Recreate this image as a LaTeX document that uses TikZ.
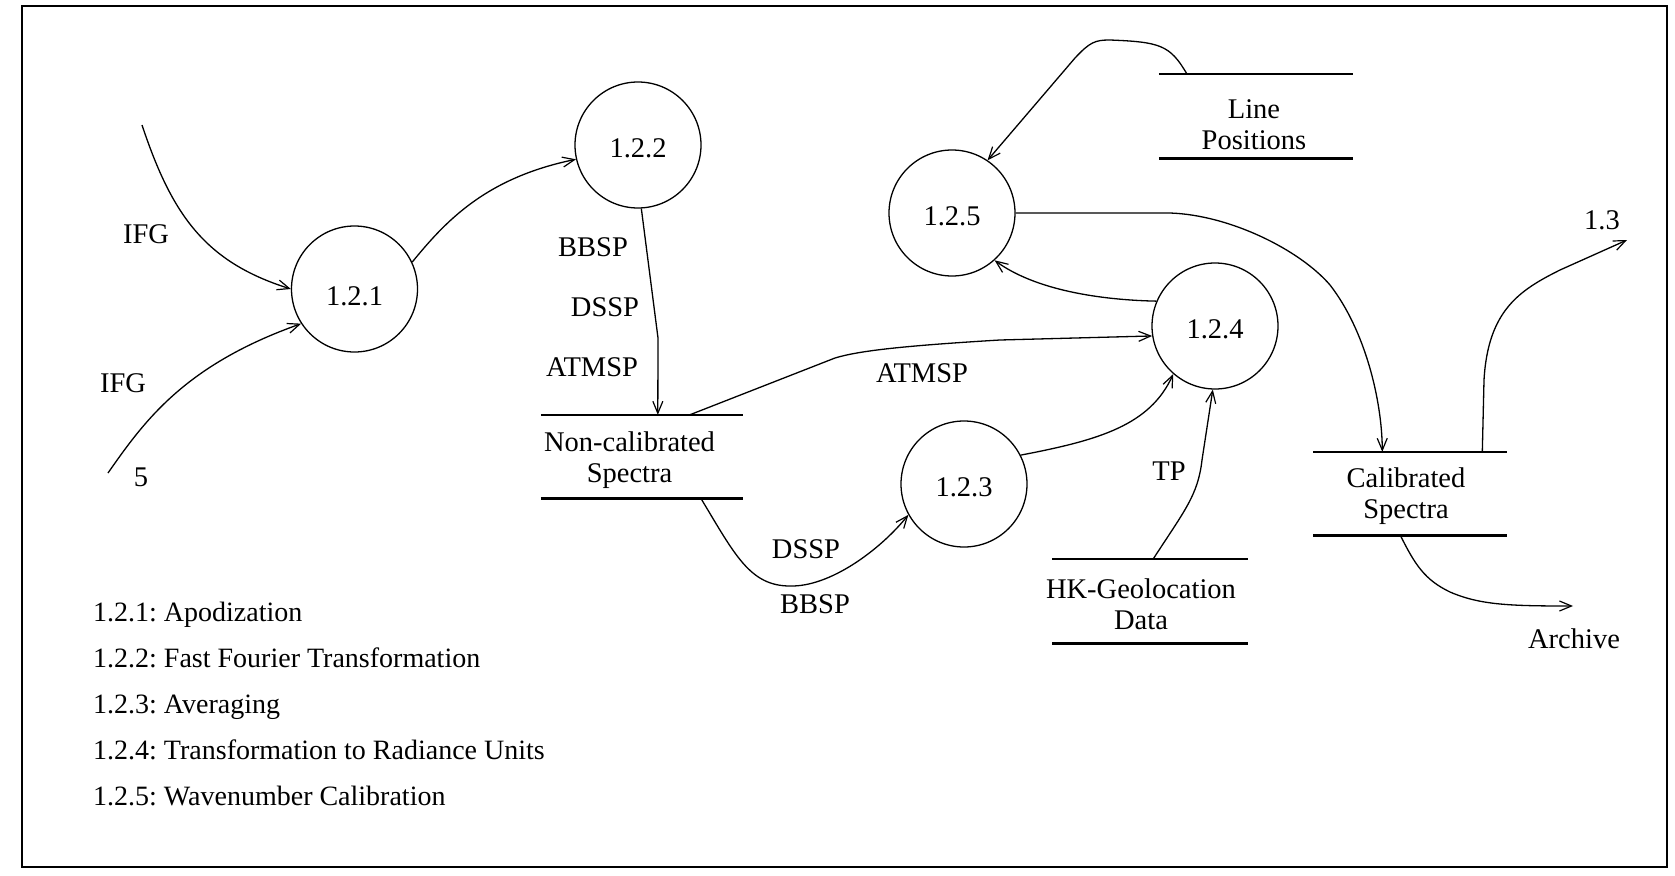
\documentclass[tikz,border=0pt]{standalone}
\usepackage{fontspec}
\setmainfont{Liberation Serif}
\usetikzlibrary{arrows.meta,calc}
\frenchspacing

\begin{document}
\begin{tikzpicture}[x=1pt,y=-1pt,
  font=\fontsize{28.5}{31}\selectfont,
  proc/.style={circle,draw,line width=1.3pt,minimum size=126pt,inner sep=0pt,
    text height=24pt,text depth=0pt},
  store/.style={inner sep=0pt},
  stxt/.style={inner sep=0pt,align=center},
  storeline/.style={line width=2.6pt},
  flow/.style={line width=1.3pt,-{Straight Barb[length=12pt,width=10pt,line width=1.2pt]}},
  lbl/.style={inner sep=0pt},
  legend/.style={anchor=base west,inner sep=0pt,font=\fontsize{28}{31}\selectfont}]

\useasboundingbox (0,0) rectangle (1675,875);
\draw[line width=2.6pt] (22,6) rectangle (1667,867);

% processes
\node[proc,text height=33pt] (p121) at (354.5,289) {1.2.1};
\node[proc] (p122) at (638,145) {1.2.2};
\node[proc] (p125) at (952,213) {1.2.5};
\node[proc] (p123) at (964,484) {1.2.3};
\node[proc] (p124) at (1215,326) {1.2.4};

% data stores: two rules with the name set between them
\node[store,minimum width=202pt,minimum height=83pt,
  label={[stxt,xshift=-12.5pt,yshift=-4pt]center:Non-calibrated\\Spectra}] (ncs) at (642,456.5) {};
\node[store,minimum width=194pt,minimum height=84pt,
  label={[stxt,xshift=-2pt,yshift=-8.5pt]center:Line\\Positions}] (lps) at (1256,116) {};
\node[store,minimum width=195pt,minimum height=84pt,
  label={[stxt,xshift=-9pt,yshift=-3pt]center:HK-Geolocation\\Data}] (hkg) at (1150,601) {};
\node[store,minimum width=193pt,minimum height=83pt,
  label={[stxt,xshift=-4pt,yshift=-3pt]center:Calibrated\\Spectra}] (cal) at (1410,493.5) {};
\foreach \s in {ncs,lps,hkg,cal}
  \draw[storeline] (\s.north west) -- (\s.north east) (\s.south west) -- (\s.south east);

% free ends
\coordinate (ifgA) at (142,125);
\coordinate (ifgB) at (108,473);
\coordinate (out13) at (1627,240);
\coordinate (arch) at (1573,606);

% flows
\draw[flow] (ifgA) .. controls (172,215) and (205,262) .. (p121.west);
\draw[flow] (ifgB) .. controls (145,420) and (185,365) .. (p121.213);
\draw[flow] (p121.25) .. controls (445,222) and (485,178) .. (p122.193);
\draw[flow] (p122.-87) -- (658,338) -- ($(ncs.north west)+(117,0)$);
\draw[flow] ($(ncs.north west)+(149,0)$) -- (835,358)
  .. controls (858,351) and (900,346) .. (1000,340) -- (p124.189);
\draw[flow] ($(ncs.south west)+(160,0)$) .. controls (735,555) and (750,586) .. (790,586)
  .. controls (830,587) and (880,550) .. (p123.209);
\draw[flow] (p123.27) .. controls (1100,440) and (1150,425) .. (p124.229);
\draw[flow] ($(hkg.north west)+(101,0)$) .. controls (1185,510) and (1198,495) .. (1202,460) -- (p124.-92);
\draw[flow] (p124.157) .. controls (1100,300) and (1035,290) .. (p125.-48);
\draw[flow] ($(lps.north west)+(28,0)$) .. controls (1170,45) and (1160,42) .. (1110,40)
  .. controls (1095,40) and (1090,42) .. (1075,58) -- (p125.56);
\draw[flow] (p125.east) -- (1170,213) .. controls (1230,215) and (1300,250) .. (1330,285)
  .. controls (1365,330) and (1382,400) .. ($(cal.north west)+(69,0)$);
\draw[flow] ($(cal.north west)+(169,0)$) -- (1484,380) .. controls (1488,310) and (1520,290) .. (1560,270) -- (out13);
\draw[flow] ($(cal.south west)+(87,0)$) .. controls (1415,565) and (1425,580) .. (1450,592)
  .. controls (1480,605) and (1510,606) .. (arch);

% flow labels
\node[lbl] (tIFGa) at (146,234) {IFG};
\node[lbl] (tIFGb) at (123,383) {IFG};
\node[lbl] (tFive) at (141,477) {5};
\node[lbl] (tBBSPa) at (593,247) {BBSP};
\node[lbl] (tDSSPa) at (605,307) {DSSP};
\node[lbl] (tATMa) at (592,367) {ATMSP};
\node[lbl] (tATMb) at (922,373) {ATMSP};
\node[lbl] (tDSSPb) at (806,549) {DSSP};
\node[lbl] (tBBSPb) at (815,604) {BBSP};
\node[lbl] (tTP) at (1169,471) {TP};
\node[lbl] (tOut) at (1602,220) {1.3};
\node[lbl] (tArch) at (1574,639) {Archive};

% legend
\node[legend] (l1) at (93,621) {1.2.1: Apodization};
\node[legend] (l2) at (93,667) {1.2.2: Fast Fourier Transformation};
\node[legend] (l3) at (93,713) {1.2.3: Averaging};
\node[legend] (l4) at (93,759) {1.2.4: Transformation to Radiance Units};
\node[legend] (l5) at (93,805) {1.2.5: Wavenumber Calibration};
\end{tikzpicture}
\end{document}
